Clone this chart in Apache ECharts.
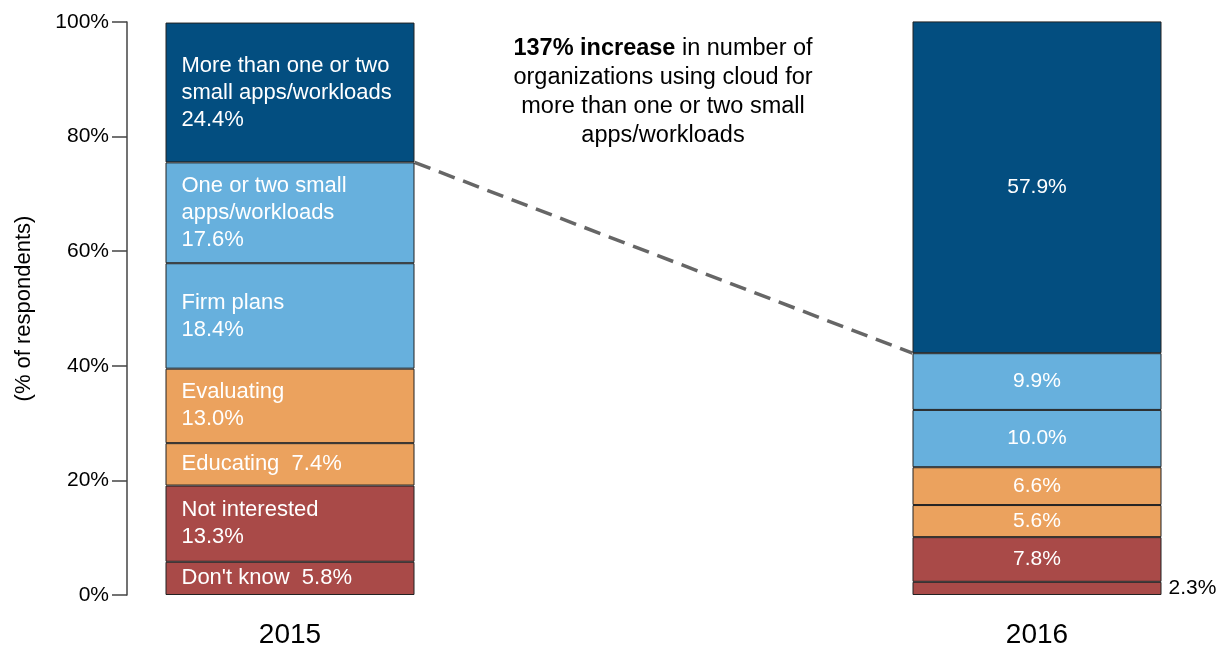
<!DOCTYPE html>
<html>
<head>
<meta charset="utf-8">
<script src="https://cdn.jsdelivr.net/npm/echarts@6/dist/echarts.min.js"></script>
<style>
  html, body { margin: 0; padding: 0; background: #fff; }
  #chart { width: 1219px; height: 650px; }
</style>
</head>
<body>
<div id="chart"></div>
<script>
// years on the x axis
const years = ['2015', '2016']

// stack segments, bottom to top
const segmentNames = [
  "Don't know",
  'Not interested',
  'Educating',
  'Evaluating',
  'Firm plans',
  'One or two small apps/workloads',
  'More than one or two small apps/workloads'
]
const values2015 = [5.8, 13.3, 7.4, 13.0, 18.4, 17.6, 24.4]
const values2016 = [2.3, 7.8, 5.6, 6.6, 10.0, 9.9, 57.9]

// labels written inside the 2015 bar ({v} = value)
const labels2015 = [
  "Don't know  {v}%",
  'Not interested\n{v}%',
  'Educating  {v}%',
  'Evaluating\n{v}%',
  'Firm plans\n{v}%',
  'One or two small\napps/workloads\n{v}%',
  'More than one or two\nsmall apps/workloads\n{v}%'
]

const yTicks = [0, 20, 40, 60, 80, 100]

const segmentColors = ['#A94A48', '#A94A48', '#EBA25E', '#EBA25E', '#67B0DD', '#67B0DD', '#034E80']

const noteText = '{b|137% increase} in number of\norganizations using cloud for\nmore than one or two small\napps/workloads'

const barWidth = 249
const font = 'Liberation Sans, Arial, sans-serif'

const chart = echarts.init(document.getElementById('chart'))

const barSeries = segmentNames.map((name, i) => ({
  name: name,
  type: 'bar',
  stack: 'total',
  barWidth: barWidth,
  clip: false,
  itemStyle: {
    color: segmentColors[i],
    borderColor: '#222',
    borderWidth: 1
  },
  data: [
    {
      value: values2015[i],
      label: {
        show: true,
        position: 'insideLeft',
        distance: 16,
        color: '#fff',
        fontFamily: font,
        fontSize: 22,
        lineHeight: 27,
        align: 'left',
        formatter: labels2015[i].replace('{v}', values2015[i].toFixed(1))
      }
    },
    {
      value: values2016[i],
      label: i === 0 ? {
        show: true,
        position: 'right',
        distance: 7,
        color: '#000',
        fontFamily: font,
        fontSize: 21,
        formatter: values2016[i].toFixed(1) + '%'
      } : {
        show: true,
        position: 'inside',
        color: '#fff',
        fontFamily: font,
        fontSize: 21,
        formatter: values2016[i].toFixed(1) + '%'
      }
    }
  ]
}))

// top of the "one or two small" segment in each year
const sum = arr => arr.slice(0, arr.length - 1).reduce((a, b) => a + b, 0)
const top2015 = sum(values2015)
const top2016 = sum(values2016)

const connector = {
  type: 'custom',
  clip: false,
  silent: true,
  encode: { x: 0, y: 1 },
  data: [[0, top2015, 1, top2016]],
  renderItem: (params, api) => {
    const p1 = api.coord([api.value(0), api.value(1)])
    const p2 = api.coord([api.value(2), api.value(3)])
    return {
      type: 'line',
      shape: { x1: p1[0] + barWidth / 2, y1: p1[1], x2: p2[0] - barWidth / 2, y2: p2[1] },
      style: { stroke: '#666', lineWidth: 3.5, lineDash: [17, 9] }
    }
  }
}

const option = {
  animation: false,
  textStyle: { fontFamily: font },
  grid: { left: 290, right: 182, top: 22, bottom: 55, outerBoundsMode: 'none', containLabel: false },
  xAxis: {
    type: 'category',
    data: years,
    boundaryGap: false,
    axisLine: { show: false },
    axisTick: { show: false },
    axisLabel: { color: '#000', fontSize: 28, margin: 26, fontFamily: font }
  },
  yAxis: {
    type: 'value',
    min: yTicks[0],
    max: yTicks[yTicks.length - 1],
    interval: yTicks[1] - yTicks[0],
    offset: 163,
    name: '(% of respondents)',
    nameLocation: 'middle',
    nameGap: 92,
    nameTextStyle: { color: '#000', fontSize: 22, fontFamily: font },
    axisLine: { show: true, lineStyle: { color: '#444', width: 1.5 } },
    axisTick: { show: true, length: 15, lineStyle: { color: '#444', width: 1.5 } },
    axisLabel: { color: '#000', fontSize: 21, margin: 18, formatter: '{value}%', fontFamily: font },
    splitLine: { show: false }
  },
  graphic: [
    {
      type: 'text',
      x: 663,
      y: 34,
      style: {
        text: noteText,
        align: 'center',
        verticalAlign: 'top',
        fill: '#000',
        fontFamily: font,
        fontSize: 23.5,
        lineHeight: 29,
        rich: {
          b: { fontWeight: 'bold', fontSize: 23.5, fontFamily: font, lineHeight: 29 }
        }
      }
    }
  ],
  series: [...barSeries, connector]
}

chart.setOption(option)
</script>
</body>
</html>
